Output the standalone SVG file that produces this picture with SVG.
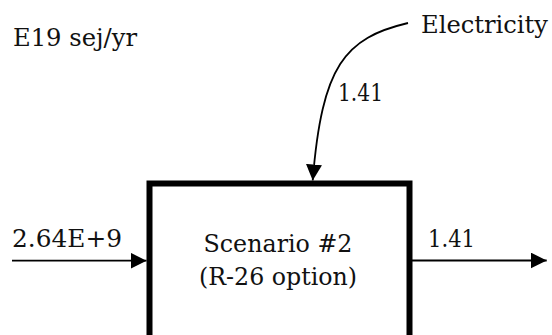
<svg xmlns="http://www.w3.org/2000/svg" width="552" height="335" viewBox="0 0 552 335">
  <style>
    .t { font-family: "DejaVu Serif", "Liberation Serif", serif; font-size: 25px; fill: #111; }
    .c { fill: none; stroke: #000; stroke-width: 1.8; }
    .box { fill: #fff; stroke: #000; stroke-width: 6; stroke-linejoin: miter; }
  </style>
  <defs>
    <marker id="ah" markerUnits="userSpaceOnUse" markerWidth="16" markerHeight="16" viewBox="0 0 14 14" refX="14" refY="7" orient="auto">
      <path d="M0,0 L14,7 L0,14 Z" fill="#000"/>
    </marker>
  </defs>
  <rect width="552" height="335" fill="#fff"/>
  <g id="units">
    <text class="t" x="13" y="46" textLength="124" lengthAdjust="spacingAndGlyphs">E19 sej/yr</text>
  </g>
  <g id="electricity">
    <text class="t" x="421" y="33" textLength="127" lengthAdjust="spacingAndGlyphs">Electricity</text>
  </g>
  <g id="scenario">
    <rect class="box" x="149.5" y="183.5" width="260" height="170"/>
    <text class="t" x="278" y="252" text-anchor="middle" textLength="149" lengthAdjust="spacingAndGlyphs">Scenario #2</text>
    <text class="t" x="278" y="285" text-anchor="middle" textLength="158" lengthAdjust="spacingAndGlyphs">(R-26 option)</text>
  </g>
  <g id="connectors">
    <path class="c" d="M408,23 C345,38 322,65 312.7,180.5" marker-end="url(#ah)"/>
    <text class="t" x="338" y="101" textLength="45" lengthAdjust="spacingAndGlyphs">1.41</text>
    <path class="c" d="M12,260.7 L146.5,260.7" marker-end="url(#ah)"/>
    <text class="t" x="12" y="247" textLength="110" lengthAdjust="spacingAndGlyphs">2.64E+9</text>
    <path class="c" d="M412,260.5 L546.7,260.5" marker-end="url(#ah)"/>
    <text class="t" x="428" y="247" textLength="47" lengthAdjust="spacingAndGlyphs">1.41</text>
  </g>
</svg>
